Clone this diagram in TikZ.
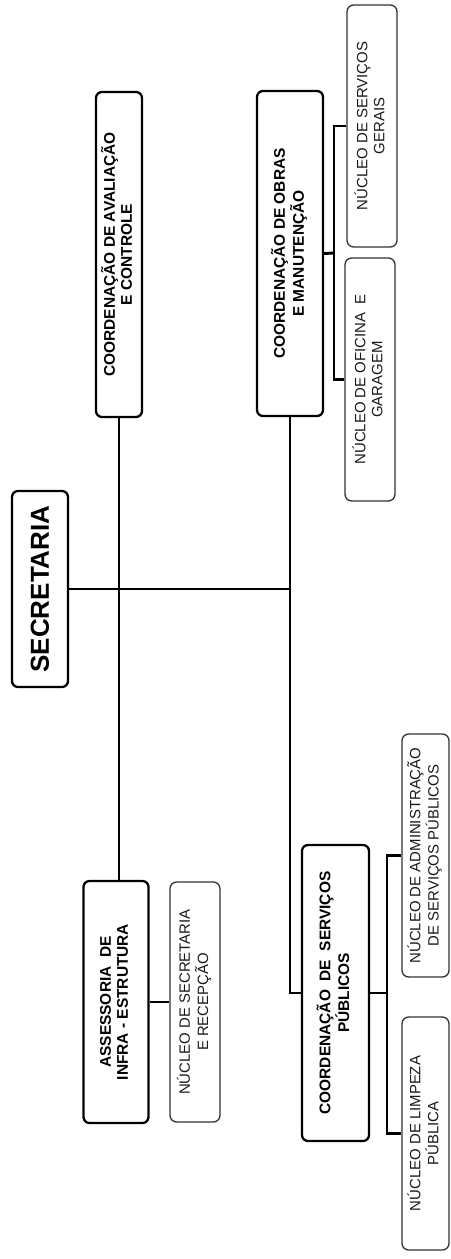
\documentclass[tikz,border=0pt]{standalone}
\usepackage{fontspec}
\setmainfont{Liberation Sans}
\begin{document}
\begin{tikzpicture}[x=0.75pt,y=-0.75pt,
  mainbox/.style={draw=black,line width=1.7pt,rounded corners=4.5pt,fill=white,inner sep=0pt,
    font=\fontsize{11.6}{12.6}\selectfont\bfseries,text=black},
  subbox/.style={draw=black!80,line width=1pt,rounded corners=5pt,fill=white,inner sep=0pt,
    font=\fontsize{11.2}{12.8}\selectfont,text=black!90},
  conn/.style={draw=black,line width=2.2pt}]
\useasboundingbox (0,0) rectangle (450,1259);
\fill[white] (0,0) rectangle (450,1259);
\newcommand{\rtxt}[1]{\rotatebox{90}{\begin{tabular}{@{}c@{}}#1\end{tabular}}}
% main boxes
\node[mainbox,minimum width=56*0.75pt,minimum height=196*0.75pt,font=\fontsize{19.5}{20}\selectfont\bfseries] (sec) at (40,589) {\rotatebox{90}{SECRETARIA}};
\node[mainbox,minimum width=46*0.75pt,minimum height=325*0.75pt] (ava) at (119,254.5) {\rtxt{COORDENAÇÃO DE AVALIAÇÃO\\E CONTROLE}};
\node[mainbox,minimum width=66*0.75pt,minimum height=325*0.75pt] (obr) at (290,253.5) {\rtxt{COORDENAÇÃO DE OBRAS\\E MANUTENÇÃO}};
\node[mainbox,minimum width=65*0.75pt,minimum height=242*0.75pt] (ass) at (116,1002) {\rtxt{ASSESSORIA\ \ DE\\INFRA - ESTRUTURA}};
\node[mainbox,minimum width=67*0.75pt,minimum height=296*0.75pt] (csp) at (335.5,993) {\rtxt{COORDENAÇÃO\ \ DE\ \ SERVIÇOS\\PÚBLICOS}};
% sub boxes
\node[subbox,minimum width=50*0.75pt,minimum height=242*0.75pt] (ger) at (372,126) {\rtxt{NÚCLEO DE SERVIÇOS\\GERAIS}};
\node[subbox,minimum width=50*0.75pt,minimum height=243*0.75pt] (ofi) at (370,379.5) {\rtxt{NÚCLEO DE OFICINA\ \ E\\GARAGEM}};
\node[subbox,minimum width=50*0.75pt,minimum height=240*0.75pt] (rec) at (195,1002) {\rtxt{NÚCLEO DE SECRETARIA\\E RECEPÇÃO}};
\node[subbox,minimum width=47*0.75pt,minimum height=243*0.75pt] (adm) at (425.5,855.5) {\rtxt{NÚCLEO DE ADMINISTRAÇÃO\\DE SERVIÇOS PÚBLICOS}};
\node[subbox,minimum width=47*0.75pt,minimum height=233*0.75pt] (lim) at (425.5,1133.5) {\rtxt{NÚCLEO DE LIMPEZA\\PÚBLICA}};
% junction coordinates
\coordinate (ob) at (334,253);
\coordinate (cb) at (387,993);
% connectors
\draw[conn] (sec.east) -- (sec.east -| obr.south);
\draw[conn] (ava.south) -- (ava.south |- ass.north);
\draw[conn] (obr.south) |- (csp.west);
\draw[conn] (obr.east) -- (ob);
\draw[conn] (ger.west) -| (ob) |- (ofi.west);
\draw[conn] (csp.east) -- (cb);
\draw[conn] (adm.west) -| (cb) |- (lim.west);
\draw[conn] (ass.east) -- (rec.west);
\end{tikzpicture}
\end{document}
